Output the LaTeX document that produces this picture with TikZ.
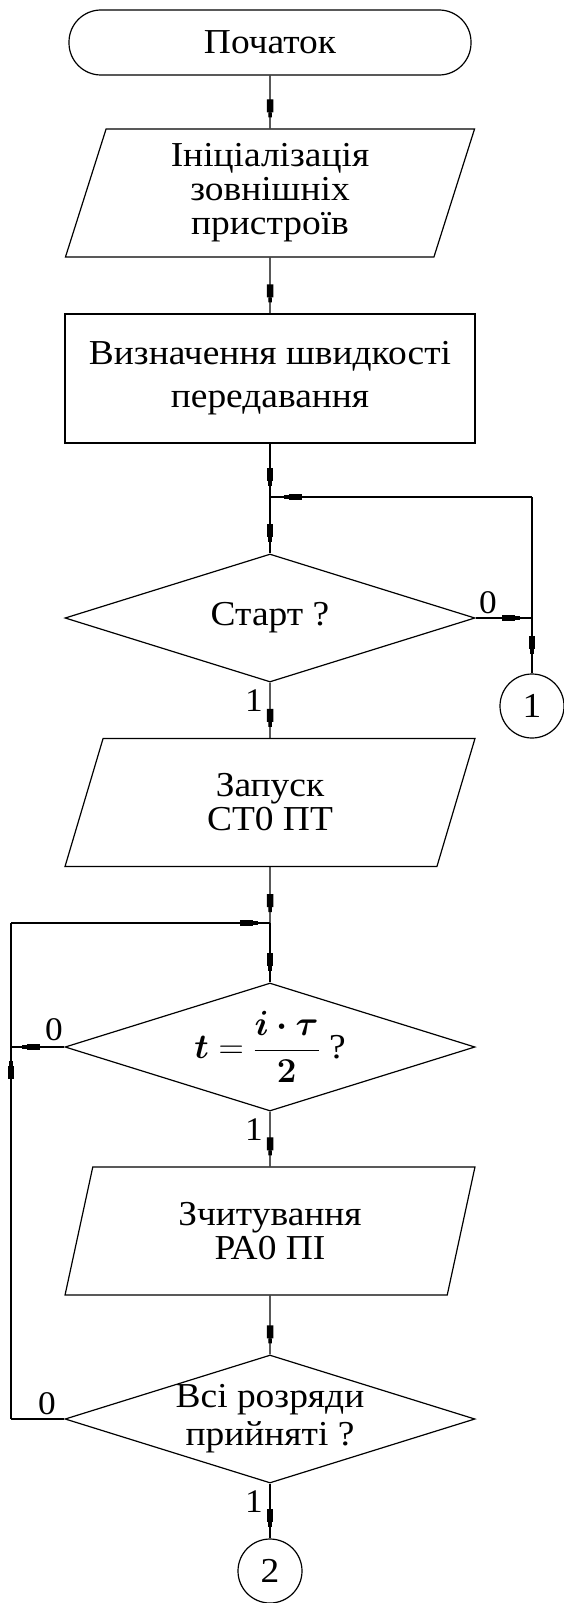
\RequirePackage{fix-cm}
\documentclass[tikz,border=0pt]{standalone}
\usepackage{fontspec}
\setmainfont{Liberation Serif}[FakeStretch=1.07]
\usepackage{amsmath}
\usepackage{bm}
\usetikzlibrary{positioning,arrows.meta,shapes.geometric,decorations.markings}

\begin{document}
\begin{tikzpicture}[
    x=1pt, y=-1pt,
    line width=1.2pt,
    term/.style={rectangle, draw, rounded corners=32pt, minimum width=402pt, minimum height=65pt, font=\fontsize{35}{38}\selectfont},
    io/.style={trapezium, trapezium left angle=76, trapezium right angle=104, trapezium stretches=true, draw, minimum width=410pt, minimum height=128pt, inner sep=0pt, align=center, font=\fontsize{35}{34}\selectfont},
    proc/.style={rectangle, draw, minimum width=410pt, minimum height=129pt, align=center, font=\fontsize{35}{43}\selectfont},
    decision/.style={diamond, draw, aspect=3.2, minimum width=410pt, minimum height=128pt, inner sep=0pt, align=center, font=\fontsize{35}{38}\selectfont},
    con/.style={circle, draw, minimum size=64pt, inner sep=0pt, font=\fontsize{35}{35}\selectfont},
    lbl/.style={inner sep=0pt, font=\fontsize{33}{33}\selectfont},
    flow/.style={postaction={decorate, decoration={markings, mark=at position #1 with {\arrow{Rectangle[length=13pt,width=6.5pt] Rectangle[length=5pt,width=3.5pt]}}}}}
]
\useasboundingbox (0,0) rectangle (563,1603);

% Main column
\node[term] (begin) at (270,42.5) {Початок};
\node[io] (init) at (270,193) {Ініціалізація\\зовнішніх\\пристроїв};
\node[proc] (baud) at (270,378.5) {Визначення швидкості\\передавання};
\coordinate (j1) at (270,497);
\node[decision] (qstart) at (270,618) {Старт ?};
\node[con] (con1) at (532,706) {1};
\node[io] (launch) at (270,802.5) {Запуск\\СТ0 ПТ};
\coordinate (j2) at (270,923);
\node[decision] (qtime) at (270,1047) {$\bm{t}=\dfrac{\bm{i\cdot\tau}}{\bm{2}}$ ?};
\node[io] (read) at (270,1231) {Зчитування\\РА0 ПІ};
\node[decision] (qall) at (270,1419) {Всі розряди\\прийняті ?};
\node[con] (con2) at (270,1571) {2};

% Loop points
\coordinate (r1) at (532,618);
\coordinate (r1top) at (532,497);
\coordinate (l2) at (11,1047);
\coordinate (l3) at (11,1419);
\coordinate (l1) at (11,923);

% Branch labels
\node[lbl] (zero1) at (488,603) {0};
\node[lbl] (one1) at (254,701) {1};
\node[lbl] (zero2) at (54,1030) {0};
\node[lbl] (one2) at (254,1130) {1};
\node[lbl] (zero3) at (47,1404) {0};
\node[lbl] (one3) at (254,1502) {1};

% Arrows
\draw[flow=-11pt] (begin.south) -- (init.north);
\draw[flow=-11pt] (init.south) -- (baud.north);
\draw[flow=-11pt] (baud.south) -- (j1);
\draw[flow=-11pt] (j1) -- (qstart.north);
\draw[flow=-12pt] (qstart.east) -- (r1);
\draw[flow=-19pt] (r1) -- (con1.north);
\draw (r1) -- (r1top);
\draw[flow=-14pt] (r1top) -- (j1);
\draw[flow=-11pt] (qstart.south) -- (launch.north);
\draw[flow=-11pt] (launch.south) -- (j2);
\draw[flow=-11pt] (j2) -- (qtime.north);
\draw[flow=-11pt] (qtime.west) -- (l2);
\draw[flow=-11pt] (qtime.south) -- (read.north);
\draw[flow=-11pt] (read.south) -- (qall.north);
\draw (qall.west) -- (l3);
\draw[flow=-14pt] (l3) -- (l2);
\draw (l2) -- (l1);
\draw[flow=-12pt] (l1) -- (j2);
\draw[flow=-11pt] (qall.south) -- (con2.north);

\end{tikzpicture}
\end{document}
